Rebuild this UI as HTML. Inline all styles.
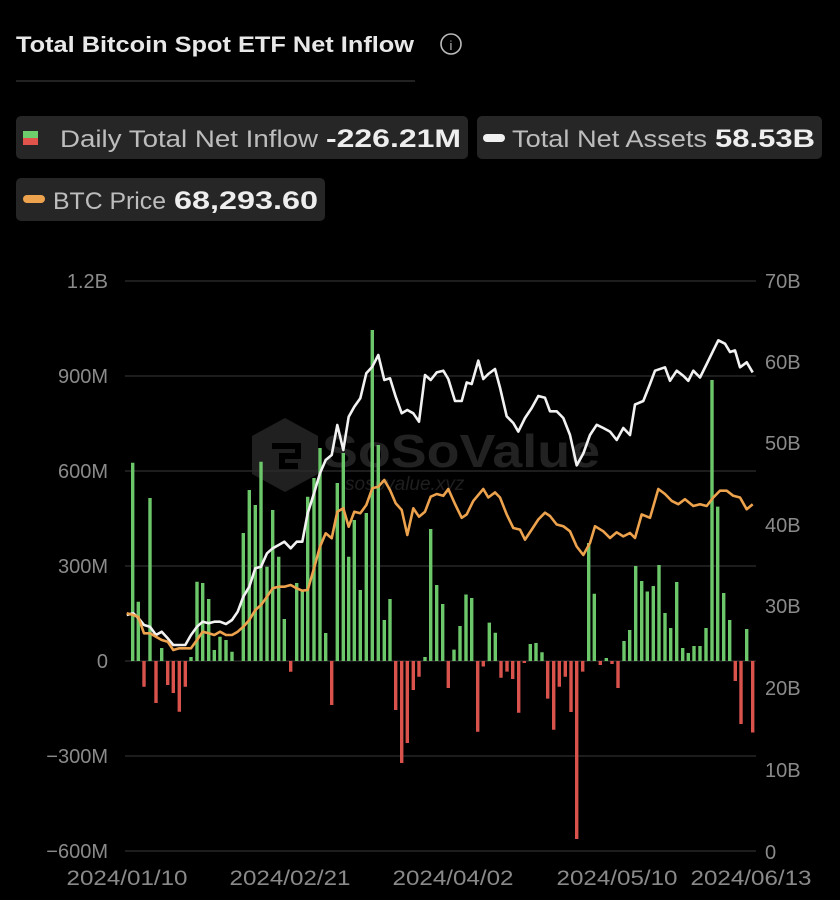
<!DOCTYPE html>
<html><head><meta charset="utf-8"><style>
html,body{margin:0;padding:0;background:#000;}
svg{display:block;font-family:"Liberation Sans",sans-serif;}
</style></head><body>
<svg width="840" height="900" viewBox="0 0 840 900" xmlns="http://www.w3.org/2000/svg">
<rect width="840" height="900" fill="#000"/>
<text x="16" y="52" font-size="22" font-weight="bold" fill="#e8e8e8" textLength="398" lengthAdjust="spacingAndGlyphs">Total Bitcoin Spot ETF Net Inflow</text>
<circle cx="451" cy="44" r="10" fill="none" stroke="#bbb" stroke-width="1.6"/>
<text x="451" y="50" font-size="13" fill="#bbb" text-anchor="middle">i</text>
<line x1="16" y1="81" x2="415" y2="81" stroke="#444" stroke-width="1"/>
<rect x="16" y="116" width="452" height="43" rx="5" fill="#262626"/>
<rect x="23" y="131" width="15" height="7" fill="#6ccf6c"/><rect x="23" y="138" width="15" height="7" fill="#e0544b"/>
<text x="60" y="147" font-size="24" fill="#bdbdbd" textLength="258" lengthAdjust="spacingAndGlyphs">Daily Total Net Inflow</text>
<text x="326" y="147" font-size="25" font-weight="bold" fill="#eee" textLength="135" lengthAdjust="spacingAndGlyphs">-226.21M</text>
<rect x="477" y="116" width="345" height="43" rx="5" fill="#262626"/>
<rect x="483" y="134" width="22" height="8" rx="4" fill="#f0f0f0"/>
<text x="512" y="147" font-size="24" fill="#bdbdbd" textLength="195" lengthAdjust="spacingAndGlyphs">Total Net Assets</text>
<text x="715" y="147" font-size="25" font-weight="bold" fill="#eee" textLength="100" lengthAdjust="spacingAndGlyphs">58.53B</text>
<rect x="16" y="178" width="309" height="43" rx="5" fill="#262626"/>
<rect x="23" y="195" width="22" height="8" rx="4" fill="#eda24d"/>
<text x="53" y="209" font-size="24" fill="#bdbdbd" textLength="113" lengthAdjust="spacingAndGlyphs">BTC Price</text>
<text x="174" y="209" font-size="25" font-weight="bold" fill="#eee" textLength="144" lengthAdjust="spacingAndGlyphs">68,293.60</text>
<g stroke="#3a3a3a" stroke-width="1">
<line x1="125" y1="281" x2="756" y2="281"/><line x1="125" y1="376" x2="756" y2="376"/><line x1="125" y1="471" x2="756" y2="471"/><line x1="125" y1="566" x2="756" y2="566"/><line x1="125" y1="661" x2="756" y2="661"/><line x1="125" y1="756" x2="756" y2="756"/><line x1="125" y1="851" x2="756" y2="851"/>
</g>
<g font-size="20" fill="#8a8a8a" text-anchor="end">
<text x="108" y="288">1.2B</text><text x="108" y="383">900M</text><text x="108" y="478">600M</text><text x="108" y="573">300M</text><text x="108" y="668">0</text><text x="108" y="763">−300M</text><text x="108" y="858">−600M</text>
</g>
<g font-size="20" fill="#8a8a8a">
<text x="765" y="288">70B</text><text x="765" y="369">60B</text><text x="765" y="450">50B</text><text x="765" y="532">40B</text><text x="765" y="613">30B</text><text x="765" y="695">20B</text><text x="765" y="777">10B</text><text x="765" y="859">0</text>
</g>
<g font-size="21" fill="#8a8a8a" text-anchor="middle">
<text x="127" y="885" textLength="121" lengthAdjust="spacingAndGlyphs">2024/01/10</text><text x="290" y="885" textLength="121" lengthAdjust="spacingAndGlyphs">2024/02/21</text><text x="453" y="885" textLength="121" lengthAdjust="spacingAndGlyphs">2024/04/02</text><text x="617" y="885" textLength="121" lengthAdjust="spacingAndGlyphs">2024/05/10</text><text x="751" y="885" textLength="121" lengthAdjust="spacingAndGlyphs">2024/06/13</text>
</g>
<g opacity="0.75">
<path d="M285 418 L318 436 L318 474 L285 492 L252 474 L252 436 Z" fill="#2b2b2b"/>
<path d="M272 446 h26 v10 h-16 v10 h16" fill="none" stroke="#000" stroke-width="6"/>
<text x="322" y="467" font-size="46" font-weight="bold" fill="#2e2e2e" textLength="278" lengthAdjust="spacingAndGlyphs">SoSoValue</text>
<text x="345" y="490" font-size="19" font-style="italic" fill="#2a2a2a">sosovalue.xyz</text>
</g>
<path fill="#6cc66a" d="M131,661V462.7h3.4V661zM136.6,661V601.7h3.4V661zM148.3,661V498h3.4V661zM160,661V648h3.4V661zM189.3,661V657h3.4V661zM195.3,661V581.7h3.4V661zM201,661V583h3.4V661zM207,661V599h3.4V661zM212.6,661V650h3.4V661zM218.3,661V636.7h3.4V661zM224.3,661V640h3.4V661zM230.3,661V651.7h3.4V661zM241.6,661V533h3.4V661zM247.6,661V490h3.4V661zM253.6,661V505h3.4V661zM259.3,661V461.7h3.4V661zM265.3,661V566.7h3.4V661zM271,661V510h3.4V661zM277,661V556.7h3.4V661zM282.6,661V619h3.4V661zM295,661V583h3.4V661zM300.6,661V590.7h3.4V661zM306,661V496.7h3.4V661zM312.3,661V478h3.4V661zM318.3,661V448h3.4V661zM324,661V633h3.4V661zM335.6,661V483h3.4V661zM341.6,661V453h3.4V661zM347,661V556.7h3.4V661zM352.6,661V520h3.4V661zM358.6,661V590h3.4V661zM364.6,661V513h3.4V661zM370.6,661V330h3.4V661zM376.6,661V445h3.4V661zM382.6,661V620h3.4V661zM388.3,661V599h3.4V661zM423.3,661V657h3.4V661zM429,661V529h3.4V661zM435,661V585h3.4V661zM441,661V604h3.4V661zM452.3,661V649.6h3.4V661zM458.3,661V626h3.4V661zM464.3,661V594.5h3.4V661zM470,661V598h3.4V661zM487.6,661V622.6h3.4V661zM493.6,661V632.7h3.4V661zM528.6,661V644h3.4V661zM534.3,661V643h3.4V661zM540.3,661V652.3h3.4V661zM587,661V543h3.4V661zM592.6,661V593.8h3.4V661zM604.6,661V658h3.4V661zM622.3,661V641h3.4V661zM628,661V630h3.4V661zM634,661V566h3.4V661zM640,661V581h3.4V661zM645.6,661V591.5h3.4V661zM651.6,661V586h3.4V661zM657.3,661V565h3.4V661zM663.3,661V613h3.4V661zM669,661V628h3.4V661zM675,661V582h3.4V661zM681,661V648h3.4V661zM686.6,661V653h3.4V661zM692.3,661V646h3.4V661zM698.3,661V646h3.4V661zM704.3,661V628h3.4V661zM710.3,661V380h3.4V661zM716,661V506.6h3.4V661zM722,661V593h3.4V661zM728,661V620h3.4V661zM745,661V629h3.4V661z"/>
<path fill="#d9534c" d="M142.3,661V686.7h3.4V661zM154.3,661V703h3.4V661zM166,661V685h3.4V661zM171.6,661V693h3.4V661zM177.6,661V711.7h3.4V661zM183.6,661V686.7h3.4V661zM289,661V671.7h3.4V661zM330,661V705h3.4V661zM394,661V710h3.4V661zM400,661V763h3.4V661zM405.6,661V743h3.4V661zM411.6,661V690h3.4V661zM417.3,661V676.7h3.4V661zM446.6,661V688h3.4V661zM476,661V731.8h3.4V661zM481.6,661V666.5h3.4V661zM499.3,661V677.7h3.4V661zM505.3,661V671.6h3.4V661zM511,661V679h3.4V661zM517,661V712.8h3.4V661zM522.6,661V663h3.4V661zM546,661V698.6h3.4V661zM552,661V729.7h3.4V661zM557.6,661V686.8h3.4V661zM563.6,661V676.7h3.4V661zM569.3,661V712h3.4V661zM575,661V839h3.4V661zM581,661V671.6h3.4V661zM598.6,661V665h3.4V661zM610.3,661V664h3.4V661zM616.3,661V688h3.4V661zM733.6,661V681h3.4V661zM739.3,661V724h3.4V661zM751,661V732.5h3.4V661z"/>
<polyline fill="none" stroke="#f2f2f2" stroke-width="2.6" stroke-linejoin="round" points="126.7,615 133.3,613.3 138.3,618 144,625 150,626.7 156,635 161.7,631.7 167.7,638.3 173.3,645 179.3,645 185.3,645 191,635 197,626.7 202.7,621.7 208.7,623.3 214.3,621.7 220,621.7 226,624 232,620 237.7,611.7 243.3,596.7 249.3,586.7 255.3,568.3 261,566.7 267,553.3 272.7,548.3 278.7,545 284.3,541.7 290.7,548.3 296.7,541.7 302.3,541.7 307.7,513.3 314,493.3 320,473.3 325.7,460 331.7,455 337.3,425 343.3,450 348.7,416.7 354.3,406.7 360.3,398.3 366.3,373.3 372.3,366.7 378.3,355 384.3,380 390,378.3 395.7,396.7 401.7,413.3 407.3,410 413.3,413.3 419,421.7 425,375 430.7,380 436.7,372.4 443.3,370.7 448.3,379 455,401 461.7,401 466.7,382.5 471.7,384 478.3,360.6 483.3,379 488.3,374 495,369 500,387.6 506.7,416.3 513.3,423 518.3,431.6 525,418 531.7,408 538.3,396 545,397.8 550,411.3 556.7,411.3 563.3,418 570,435 576.7,465.4 583.3,453.5 590,435 596.7,424.8 603.3,428 610,431.6 616.7,440 623.3,428 630,435 635,404.5 643.3,401 650,384 655,370.7 665,367.3 670,380.8 676.7,370.7 683.3,375.8 688.3,380.8 693.3,370.7 700,377.5 706.7,364 713.3,350.4 718.3,340.3 725,343.7 730,352 735,350.4 740,367.3 746.7,362.3 752.7,372.4"/>
<polyline fill="none" stroke="#eda24d" stroke-width="2.6" stroke-linejoin="round" points="126.7,613.3 133.3,615 138.3,617 144,633.3 150,633.3 156,636.7 161.7,640 167.7,641.7 173.3,650 179.3,648.3 185.3,648.3 191,648.3 197,640 202.7,631.7 208.7,633.3 214.3,635 220,631.7 226,635 232,635 237.7,631.7 243.3,626.7 249.3,620 255.3,610 261,605 267,596.7 272.7,588.3 278.7,586.7 284.3,586.7 290.7,585 296.7,588.3 302.3,590.7 307.7,590 314,568.3 320,546.7 325.7,533.3 331.7,538.3 337.3,511.7 343.3,508.3 348.7,526.7 354.3,511.7 360.3,513.3 366.3,505 372.3,488.3 378.3,486.7 384.3,480 390,490 395.7,503.3 401.7,510 407.3,535 413.3,508.3 419,516.7 425,511.7 430.7,496.7 436.7,494 443.3,495.8 448.3,489 455,504 461.7,517.8 466.7,514.4 473.3,500.9 483.3,489 488.3,497.5 495,492.4 500,497.5 506.7,514.4 513.3,528 520,529.6 525,539.7 531.7,529.6 538.3,519.5 545,512.7 550,516 556.7,524.5 563.3,526.2 570,531.3 576.7,546.5 583.3,555 590,543 595,526.2 603.3,531.3 610,538 616.7,532.3 623.3,536.4 630,533 635,538 641.7,514.4 650,517.8 658.3,489 665,494 671.7,500.9 678.3,504.2 685,499.2 693.3,506 700,504.2 706.7,506 713.3,497.5 720,490.7 726.7,490.7 733.3,495.8 740,497.5 746.7,509.3 752.7,504.2"/>
</svg>
</body></html>
